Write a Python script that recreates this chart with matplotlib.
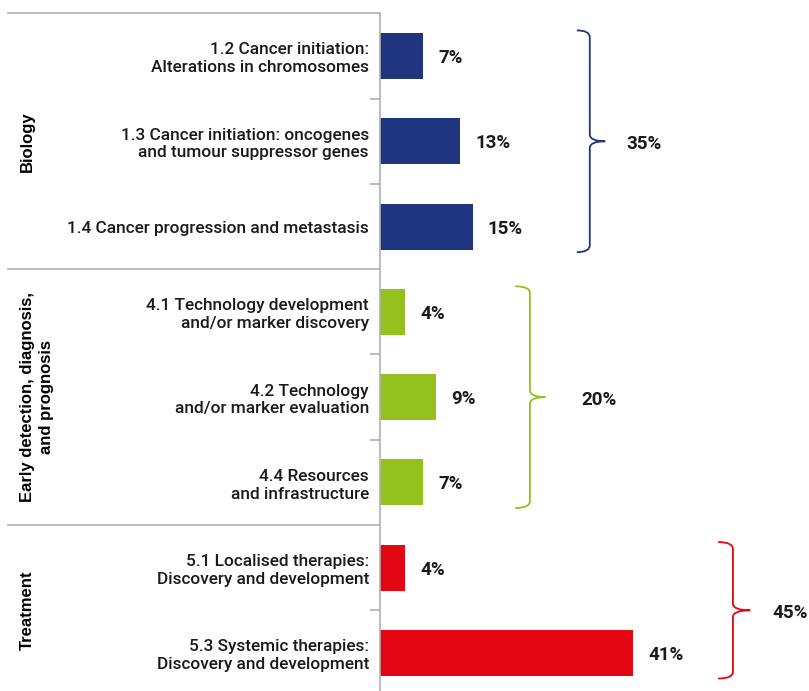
import numpy as np
import matplotlib
matplotlib.use("Agg")
import matplotlib.pyplot as plt
from matplotlib.path import Path
from matplotlib.patches import PathPatch
import matplotlib.transforms as mtransforms

plt.rcParams['font.family'] = ['Roboto', 'DejaVu Sans']

categories = [
    "1.2 Cancer initiation:\nAlterations in chromosomes",
    "1.3 Cancer initiation: oncogenes\nand tumour suppressor genes",
    "1.4 Cancer progression and metastasis",
    "4.1 Technology development\nand/or marker discovery",
    "4.2 Technology\nand/or marker evaluation",
    "4.4 Resources\nand infrastructure",
    "5.1 Localised therapies:\nDiscovery and development",
    "5.3 Systemic therapies:\nDiscovery and development",
]
values = [7, 13, 15, 4, 9, 7, 4, 41]
group_of = [0, 0, 0, 1, 1, 1, 2, 2]
groups = ["Biology", "Early detection, diagnosis,\nand prognosis", "Treatment"]
group_totals = [35, 20, 45]
group_colors = ["#1f3580", "#95c11f", "#e30613"]
# bracket x positions (data units): hook start, stem, tip, label
bracket_x = [(31.9, 34.0, 36.5, 40.0), (21.9, 24.3, 26.8, 32.6), (54.8, 57.2, 60.0, 63.6)]

W, H = 809, 691
fig = plt.figure(figsize=(W / 100, H / 100), dpi=100)
left_px, top_px, bot_px = 380, 13.36, 695.6
ax = fig.add_axes([left_px / W, (H - bot_px) / H, (W - left_px) / W, (bot_px - top_px) / H])

y = np.arange(len(categories))
colors = [group_colors[g] for g in group_of]
ax.barh(y, values, height=0.54, color=colors)
ax.set_ylim(len(categories) - 0.5, -0.5)
ax.set_xlim(0, (W - left_px) / 6.17)

for s in ["top", "right", "bottom"]:
    ax.spines[s].set_visible(False)
ax.spines["left"].set_color("#b0b0b0")
ax.spines["left"].set_linewidth(1.2)
ax.set_xticks([])
ax.set_yticks(y)
ax.set_yticklabels(categories, fontsize=12.4, fontweight="medium", color="#1a1a1a",
                   ha="right", linespacing=1.22)
ax.tick_params(axis="y", which="major", length=0, pad=8)

# minor ticks between categories within groups
minor = [i + 0.5 for i in range(len(categories) - 1) if group_of[i] == group_of[i + 1]]
ax.set_yticks(minor, minor=True)
ax.tick_params(axis="y", which="minor", length=7.5, width=1.2, color="#b0b0b0", direction="out")

# value labels
for yi, v in zip(y, values):
    ax.annotate(f"{v}%", xy=(v, yi), xytext=(11, -1.5), textcoords="offset points",
                ha="left", va="center", fontsize=13.5, fontweight="bold", color="#1a1a1a")

# group separators and group labels
trans = mtransforms.blended_transform_factory(ax.transAxes, ax.transData)
xfrac_left = (8 - left_px) / (W - left_px)
bounds = [-0.5]
for gi in range(len(groups)):
    idx = [i for i, g in enumerate(group_of) if g == gi]
    bounds.append(idx[0] - 0.5)
for b in sorted(set(bounds)):
    ax.plot([xfrac_left, 0], [b, b], transform=trans, color="#b0b0b0", lw=1.2, clip_on=False)

for gi, name in enumerate(groups):
    idx = [i for i, g in enumerate(group_of) if g == gi]
    ymid = (idx[0] + idx[-1]) / 2
    ax.text((20 - left_px) / (W - left_px), ymid, name, transform=trans, rotation=90,
            ha="left", va="center", fontsize=12, fontweight="bold", color="#000000",
            family=["Liberation Sans", "DejaVu Sans"],
            multialignment="center", linespacing=1.3)

    # brace
    x0, x1, x2, xl = bracket_x[gi]
    yt, yb = idx[0] - 0.3, idx[-1] + 0.3
    ym = (yt + yb) / 2
    r = 0.08
    verts = [(x0, yt), (x1, yt), (x1, yt + r),
             (x1, ym - r), (x1, ym), (x2, ym),
             (x1, ym), (x1, ym + r),
             (x1, yb - r), (x1, yb), (x0, yb)]
    codes = [Path.MOVETO, Path.CURVE3, Path.CURVE3,
             Path.LINETO, Path.CURVE3, Path.CURVE3,
             Path.CURVE3, Path.CURVE3,
             Path.LINETO, Path.CURVE3, Path.CURVE3]
    ax.add_patch(PathPatch(Path(verts, codes), fill=False, edgecolor=group_colors[gi],
                           lw=1.3, clip_on=False))
    ax.text(xl, ym + 0.03, f"{group_totals[gi]}%", ha="left", va="center",
            fontsize=13.5, fontweight="bold", color="#1a1a1a")

fig.savefig("out.png", dpi=100)
